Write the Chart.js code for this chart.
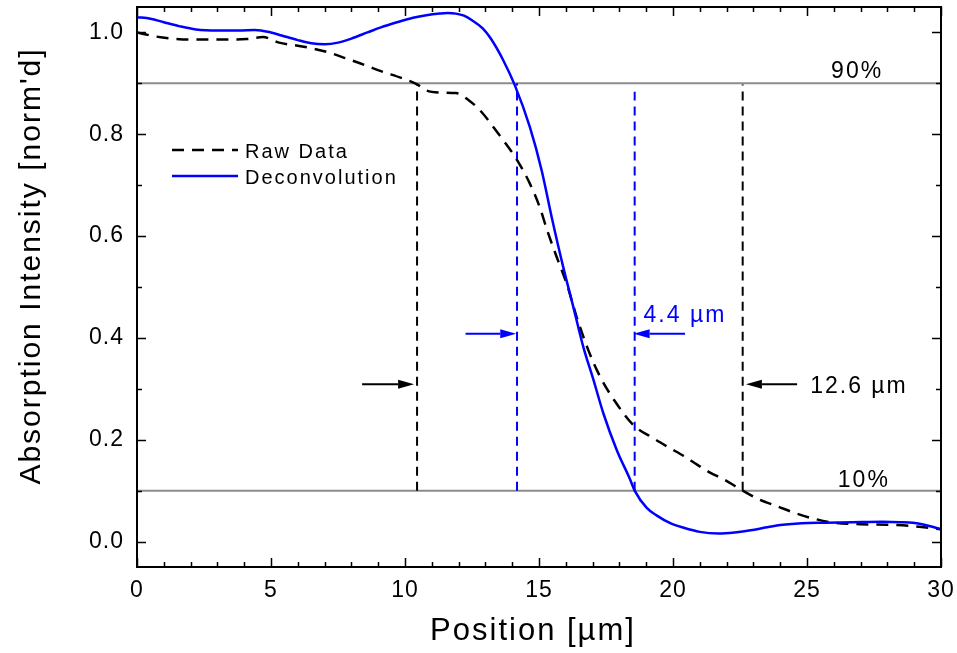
<!DOCTYPE html>
<html>
<head>
<meta charset="utf-8">
<script src="https://cdn.jsdelivr.net/npm/chart.js@4.4.0/dist/chart.umd.min.js"></script>
<style>
  body { margin: 0; background: #fff; }
  canvas { display: block; }
</style>
</head>
<body>
<canvas id="profileChart" width="957" height="653"></canvas>
<script>
// values
const rawPos = [0, 0.6, 1.3, 2.0, 2.8, 3.5, 4.1, 4.7, 5.3, 6.0, 6.6, 7.2, 7.8, 8.5, 9.1, 9.9, 10.45, 10.8, 11.3, 11.9,
  12.4, 12.8, 13.5, 14.15, 14.66, 15.04, 15.3, 15.66, 16.03, 16.4, 16.84, 17.28, 17.84, 18.52, 19.2, 19.8, 20.4, 20.9,
  21.4, 21.9, 22.6, 23.2, 23.9, 24.5, 25.1, 26.0, 27.0, 28.0, 29.0, 30.0];
const rawInt = [1.000, 0.993, 0.988, 0.986, 0.986, 0.986, 0.987, 0.991, 0.980, 0.974, 0.968, 0.960, 0.949, 0.936, 0.924, 0.910, 0.898, 0.886, 0.882, 0.881,
  0.866, 0.847, 0.800, 0.752, 0.703, 0.655, 0.612, 0.559, 0.507, 0.442, 0.376, 0.324, 0.275, 0.229, 0.205, 0.186, 0.168, 0.151,
  0.135, 0.122, 0.100, 0.083, 0.069, 0.057, 0.047, 0.037, 0.034, 0.033, 0.030, 0.024];
const decPos = [0, 0.5, 1.0, 1.6, 2.2, 3.0, 3.8, 4.4, 5.0, 5.4, 6.0, 6.5, 7.0, 7.5, 8.0, 8.6, 9.1, 9.7, 10.3, 10.8, 11.3, 11.6, 11.9,
  12.2, 12.5, 12.9, 13.2, 13.67, 14.1, 14.66, 15.1, 15.47, 15.9, 16.28, 16.65, 17.03, 17.4, 17.9, 18.4, 18.58, 19.02, 19.4,
  19.9, 20.4, 21.0, 21.7, 22.3, 22.9, 23.5, 24.1, 24.8, 25.7, 26.7, 27.8, 28.5, 29.2, 29.6, 30.0];
const decInt = [1.030, 1.027, 1.020, 1.012, 1.006, 1.004, 1.004, 1.005, 1.000, 0.994, 0.985, 0.979, 0.977, 0.980, 0.988, 1.000, 1.010, 1.020, 1.029, 1.034, 1.037, 1.038, 1.037,
  1.033, 1.024, 1.008, 0.988, 0.945, 0.896, 0.814, 0.729, 0.638, 0.540, 0.461, 0.383, 0.318, 0.252, 0.180, 0.122, 0.099, 0.066, 0.051,
  0.036, 0.027, 0.019, 0.016, 0.018, 0.022, 0.028, 0.033, 0.036, 0.037, 0.038, 0.039, 0.038, 0.035, 0.030, 0.024];

const xTicks = [0, 5, 10, 15, 20, 25, 30];
const yTicks = [0, 0.2, 0.4, 0.6, 0.8, 1.0];

// 90% / 10% levels and where each curve crosses them
const levels = [0.9, 0.1];
const levelLabels = ['90%', '10%'];
const levelLabelPos = [[25.9, 0.910], [26.15, 0.108]];
const rawEdges = [10.45, 22.6];
const rawEdgeTop = [0.898, 0.898];
const decEdges = [14.18, 18.57];
const decEdgeTop = [0.9, 0.886];

// width markers: arrows [from, to] and label
const rawArrows = [[8.4, 10.34], [24.63, 22.72]];
const rawArrowLevel = 0.309;
const rawWidthLabel = '12.6 µm';
const rawLabelPos = [25.12, 0.292];
const decArrows = [[12.26, 14.15], [20.45, 18.53]];
const decArrowLevel = 0.408;
const decWidthLabel = '4.4 µm';
const decLabelPos = [18.9, 0.432];

const BLUE = '#0000ff';
const FONT = 'Arial, "Liberation Sans", sans-serif';

const toPts = (xs, ys) => xs.map((v, i) => ({ x: v, y: ys[i] }));

const datasets = [
  { label: 'Deconvolution', data: toPts(decPos, decInt), borderColor: BLUE, borderWidth: 2.5, order: 1 },
  { label: 'Raw Data', data: toPts(rawPos, rawInt), borderColor: '#000', borderWidth: 2.5, borderDash: [12, 8], order: 2 }
];
// vertical dashed markers
rawEdges.forEach((e, i) => datasets.push({
  data: [{ x: e, y: 0.1 }, { x: e, y: rawEdgeTop[i] }], borderColor: '#000', borderWidth: 2, borderDash: [9, 6], order: 3
}));
decEdges.forEach((e, i) => datasets.push({
  data: [{ x: e, y: 0.1 }, { x: e, y: decEdgeTop[i] }], borderColor: BLUE, borderWidth: 2, borderDash: [9, 6], order: 3
}));
// horizontal level lines
levels.forEach(l => datasets.push({
  data: [{ x: 0, y: l }, { x: 30, y: l }], borderColor: '#8c8c8c', borderWidth: 2, order: 5
}));

function drawArrow(ctx, x0, x1, yy, color) {
  const dir = Math.sign(x1 - x0);
  const head = 16, half = 4.5;
  ctx.strokeStyle = color;
  ctx.fillStyle = color;
  ctx.lineWidth = 2;
  ctx.beginPath();
  ctx.moveTo(x0, yy);
  ctx.lineTo(x1 - dir * head, yy);
  ctx.stroke();
  ctx.beginPath();
  ctx.moveTo(x1, yy);
  ctx.lineTo(x1 - dir * head, yy - half);
  ctx.lineTo(x1 - dir * head, yy + half);
  ctx.closePath();
  ctx.fill();
}

// no extra room for overhanging tick labels, the plot box is fixed
function noPad(s) {
  s.paddingTop = 0; s.paddingBottom = 0; s.paddingLeft = 0; s.paddingRight = 0;
}

const decor = {
  id: 'decor',
  beforeDraw(chart) {
    chart.ctx.letterSpacing = '1px';
  },
  afterDatasetsDraw(chart) {
    const { ctx, scales: { x, y } } = chart;
    ctx.save();
    rawArrows.forEach(a => drawArrow(ctx, x.getPixelForValue(a[0]), x.getPixelForValue(a[1]), y.getPixelForValue(rawArrowLevel), '#000'));
    decArrows.forEach(a => drawArrow(ctx, x.getPixelForValue(a[0]), x.getPixelForValue(a[1]), y.getPixelForValue(decArrowLevel), BLUE));

    ctx.letterSpacing = '2px';
    ctx.font = '23px ' + FONT;
    ctx.textAlign = 'left';
    ctx.textBaseline = 'alphabetic';
    ctx.fillStyle = '#000';
    levelLabels.forEach((t, i) => ctx.fillText(t, x.getPixelForValue(levelLabelPos[i][0]), y.getPixelForValue(levelLabelPos[i][1])));
    ctx.fillText(rawWidthLabel, x.getPixelForValue(rawLabelPos[0]), y.getPixelForValue(rawLabelPos[1]));
    ctx.fillStyle = BLUE;
    ctx.fillText(decWidthLabel, x.getPixelForValue(decLabelPos[0]), y.getPixelForValue(decLabelPos[1]));
    ctx.restore();
  },
  afterDraw(chart) {
    const { ctx, chartArea: a, scales: { x, y } } = chart;
    ctx.save();
    ctx.strokeStyle = '#000';

    // inward ticks on all four sides
    ctx.lineWidth = 1.5;
    ctx.beginPath();
    for (let v = 0; v <= 30; v++) {
      const px = Math.round(x.getPixelForValue(v)) + 0.5;
      const len = v % 5 === 0 ? 9 : 5;
      ctx.moveTo(px, a.bottom); ctx.lineTo(px, a.bottom - len);
      ctx.moveTo(px, a.top); ctx.lineTo(px, a.top + len);
    }
    for (let k = 0; k <= 10; k++) {
      const py = Math.round(y.getPixelForValue(k / 10)) + 0.5;
      const len = k % 2 === 0 ? 9 : 5;
      ctx.moveTo(a.left, py); ctx.lineTo(a.left + len, py);
      ctx.moveTo(a.right, py); ctx.lineTo(a.right - len, py);
    }
    ctx.stroke();

    // frame
    ctx.lineWidth = 2;
    ctx.strokeRect(a.left, a.top, a.right - a.left, a.bottom - a.top);

    // legend
    ctx.lineWidth = 2.5;
    ctx.setLineDash([12, 8]);
    ctx.beginPath();
    ctx.moveTo(a.left + 35, a.top + 143); ctx.lineTo(a.left + 101, a.top + 143);
    ctx.stroke();
    ctx.setLineDash([]);
    ctx.strokeStyle = BLUE;
    ctx.beginPath();
    ctx.moveTo(a.left + 35, a.top + 169); ctx.lineTo(a.left + 101, a.top + 169);
    ctx.stroke();
    ctx.fillStyle = '#000';
    ctx.letterSpacing = '2px';
    ctx.font = '20px ' + FONT;
    ctx.textAlign = 'left';
    ctx.textBaseline = 'alphabetic';
    ctx.fillText('Raw Data', a.left + 108, a.top + 151);
    ctx.fillText('Deconvolution', a.left + 108, a.top + 177);

    // axis titles
    ctx.font = '31px ' + FONT;
    ctx.textAlign = 'center';
    ctx.fillText('Position [µm]', (a.left + a.right) / 2 - 6, 640);
    ctx.save();
    ctx.translate(40, 266);
    ctx.rotate(-Math.PI / 2);
    ctx.font = '30px ' + FONT;
    ctx.letterSpacing = '2px';
    ctx.fillText('Absorption Intensity [norm\'d]', 0, 0);
    ctx.restore();

    ctx.restore();
  }
};

Chart.defaults.font.family = FONT;
Chart.defaults.color = '#000';

const chart = new Chart(document.getElementById('profileChart'), {
  type: 'line',
  data: { datasets: datasets },
  options: {
    responsive: false,
    animation: false,
    layout: { padding: { top: 7, right: 16, left: 0, bottom: 0 } },
    elements: {
      point: { radius: 0 },
      line: { cubicInterpolationMode: 'monotone', fill: false }
    },
    plugins: { legend: { display: false }, tooltip: { enabled: false } },
    scales: {
      x: {
        type: 'linear',
        min: 0, max: 30,
        grid: { display: false, drawTicks: false },
        border: { display: false },
        afterBuildTicks: s => { s.ticks = xTicks.map(v => ({ value: v })); },
        afterFit: s => { s.height = 86; noPad(s); },
        ticks: { font: { size: 23 }, padding: 10, maxRotation: 0, callback: v => String(v) }
      },
      y: {
        type: 'linear',
        min: -0.05, max: 1.05,
        grid: { display: false, drawTicks: false },
        border: { display: false },
        afterBuildTicks: s => { s.ticks = yTicks.map(v => ({ value: v })); },
        afterFit: s => { s.width = 137; noPad(s); },
        ticks: { font: { size: 23 }, padding: 13, callback: v => v.toFixed(1) }
      }
    }
  },
  plugins: [decor]
});
</script>
</body>
</html>
